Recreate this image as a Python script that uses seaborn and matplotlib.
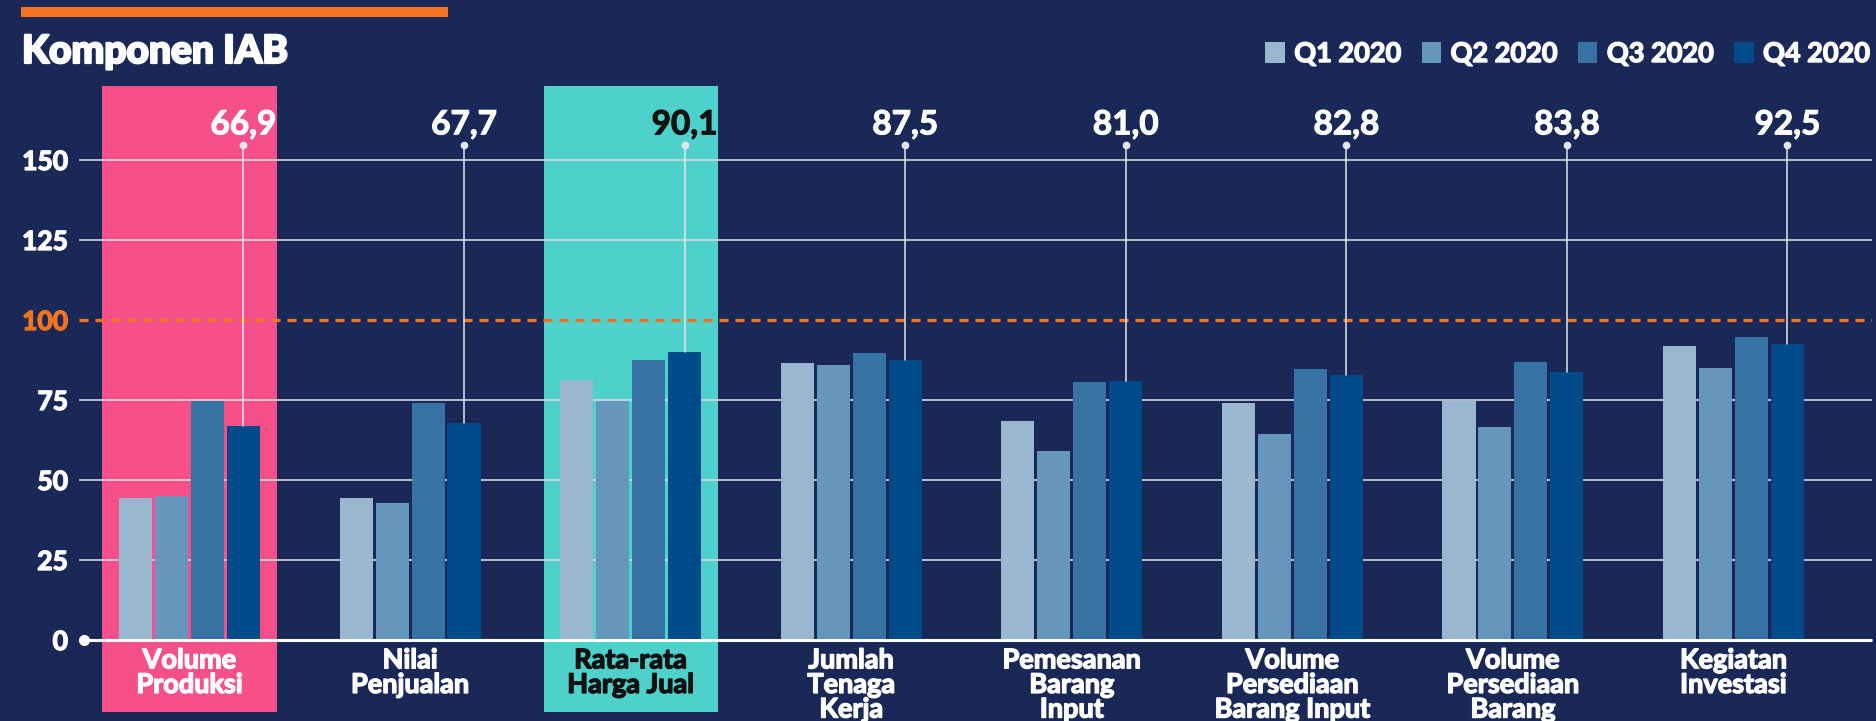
import matplotlib
matplotlib.use("Agg")
import matplotlib.pyplot as plt
import matplotlib.patheffects as pe
from matplotlib.patches import Patch, Rectangle
import numpy as np
import pandas as pd
import seaborn as sns

# --- data -------------------------------------------------------------
komponen = [
    "Volume\nProduksi",
    "Nilai\nPenjualan",
    "Rata-rata\nHarga Jual",
    "Jumlah\nTenaga\nKerja",
    "Pemesanan\nBarang\nInput",
    "Volume\nPersediaan\nBarang Input",
    "Volume\nPersediaan\nBarang",
    "Kegiatan\nInvestasi",
]
kuartal = ["Q1 2020", "Q2 2020", "Q3 2020", "Q4 2020"]
q1_2020 = [44.4, 44.4, 81.2, 86.7, 68.4, 74.0, 74.8, 91.9]
q2_2020 = [45.0, 42.8, 74.7, 86.0, 59.0, 64.3, 66.5, 85.0]
q3_2020 = [74.7, 74.0, 87.5, 89.7, 80.7, 84.8, 86.9, 94.7]
q4_2020 = [66.9, 67.7, 90.1, 87.5, 81.0, 82.8, 83.8, 92.5]
y_ticks = [0, 25, 50, 75, 100, 125, 150]
highlight = {0: "#f5508a", 2: "#4fd1cb"}

# --- style ------------------------------------------------------------
BG = "#1a2857"
ORANGE = "#f47321"
palette = ["#99b8d0", "#6696bb", "#3672a4", "#024b8a"]

sns.set_style("white")
plt.rcParams["font.family"] = ["Lato", "DejaVu Sans"]


def heavy(color, w=0.9):
    """Outline text in its own colour to give it a heavier weight."""
    return [pe.withStroke(linewidth=w, foreground=color)]


df = pd.DataFrame({
    "komponen": np.repeat(komponen, len(kuartal)),
    "kuartal": kuartal * len(komponen),
    "nilai": np.column_stack([q1_2020, q2_2020, q3_2020, q4_2020]).ravel(),
})

fig = plt.figure(figsize=(18.76, 7.21), dpi=100, facecolor=BG)
ax = fig.add_axes([79 / 1876, 9 / 721, (1872 - 79) / 1876, 626 / 721])
ax.set_facecolor(BG)

sns.barplot(data=df, x="komponen", y="nilai", hue="kuartal",
            order=komponen, hue_order=kuartal, palette=palette,
            saturation=1, width=0.652, gap=0.08, errorbar=None,
            legend=False, ax=ax)
for bar in ax.patches:
    bar.set_zorder(2)
    bar.set_linewidth(0)

ax.set_xlim(-0.501, 7.628)
ax.set_ylim(-22.5, 173.1)

# highlighted categories
for idx, col in highlight.items():
    ax.axvspan(idx - 0.395, idx + 0.395, color=col, zorder=0.5, lw=0)

# grid, reference line and baseline
for v in y_ticks:
    if v in (0, 100):
        continue
    ax.axhline(v, color="#d4d6e0", lw=1.2, zorder=1.5)
ax.axhline(100, color=ORANGE, lw=2.4, dashes=(2.7, 2.1), zorder=3)
ax.plot([-0.478, 7.628], [0, 0], color="white", lw=2.2, zorder=4,
        solid_capstyle="butt", clip_on=False)
ax.plot([-0.478], [0], "o", color="white", ms=7, zorder=4, clip_on=False)

# y axis labels
ax.set_yticks(y_ticks)
ax.set_yticklabels([str(v) for v in y_ticks])
ax.tick_params(axis="y", length=0, pad=8, labelsize=19, labelcolor="white")
for lbl, v in zip(ax.get_yticklabels(), y_ticks):
    lbl.set_fontweight("bold")
    col = ORANGE if v == 100 else "white"
    lbl.set_color(col)
    lbl.set_path_effects(heavy(col, 1.0))
ax.tick_params(axis="x", bottom=False, labelbottom=False)
ax.set_xlabel("")
ax.set_ylabel("")
for s in ax.spines.values():
    s.set_visible(False)

# Q4 value callouts
dot_y, text_y = 154.7, 158.0
for i, bar in enumerate(ax.containers[3]):
    xc = bar.get_x() + bar.get_width() / 2
    h = bar.get_height()
    tc = "#111111" if i == 2 else "white"
    ax.plot([xc, xc], [h, dot_y], color="#e4e6ee", lw=1.1, zorder=3)
    ax.plot([xc], [dot_y], "o", color="#e4e6ee", ms=4.5, zorder=3)
    ax.text(xc, text_y, f"{q4_2020[i]:.1f}".replace(".", ","),
            ha="center", va="baseline", fontsize=24, fontweight="bold",
            color=tc, zorder=5, path_effects=heavy(tc, 0.8))

# category labels
for i, name in enumerate(komponen):
    tc = "#111111" if i == 2 else "white"
    ax.text(i, -2.6, name, ha="center", va="top", fontsize=19.5,
            fontweight="bold", color=tc, linespacing=1.03, zorder=5,
            path_effects=heavy(tc, 1.0))

# header
fig.patches.append(Rectangle((21 / 1876, 1 - 17 / 721), 427 / 1876, 10 / 721,
                             transform=fig.transFigure, color=ORANGE, lw=0))
fig.text(22 / 1876, 1 - 63 / 721, "Komponen IAB", ha="left", va="baseline",
         fontsize=28, fontweight="black", color="white",
         path_effects=heavy("white", 1.6))

handles = [Patch(facecolor=c, edgecolor="none") for c in palette]
leg = fig.legend(handles, kuartal, ncol=4, loc="center right",
                 bbox_to_anchor=(1870 / 1876, 1 - 54 / 721), frameon=False,
                 handlelength=0.72, handleheight=0.78, handletextpad=0.35,
                 columnspacing=0.75, borderpad=0, borderaxespad=0,
                 prop={"size": 19.5, "weight": "bold"}, labelcolor="white")
for t in leg.get_texts():
    t.set_path_effects(heavy("white", 1.0))

fig.savefig("out.png", dpi=100, facecolor=BG)
